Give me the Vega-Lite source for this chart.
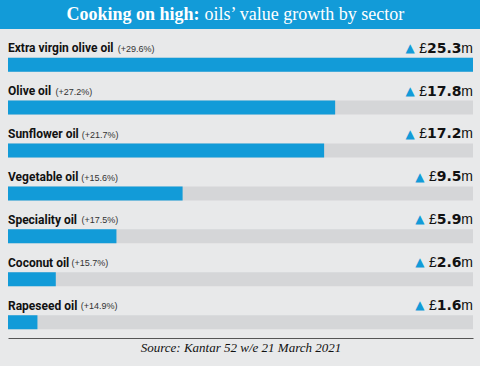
{
  "$schema": "https://vega.github.io/schema/vega-lite/v6.json",
  "background": "#e8e9ea",
  "padding": {"left": 0, "right": 0, "top": 0, "bottom": 12},
  "spacing": 0,
  "config": {"view": {"stroke": null}, "concat": {"spacing": 0}},
  "vconcat": [
    {
      "width": 480,
      "height": 29,
      "view": {"fill": "#129bd8", "stroke": null},
      "data": {"values": [{"bold": "Cooking on high:", "regular": "oils’ value growth by sector"}]},
      "encoding": {"x": {"datum": 0.42, "type": "quantitative", "scale": {"domain": [0, 1], "nice": false}, "axis": null}},
      "layer": [
        {"mark": {"type": "text", "align": "right", "baseline": "middle", "dx": -2, "font": "Liberation Serif", "fontWeight": "bold", "fontSize": 18, "color": "white"},
         "encoding": {"text": {"field": "bold"}}},
        {"mark": {"type": "text", "align": "left", "baseline": "middle", "dx": 3, "font": "Liberation Serif", "fontWeight": "normal", "fontSize": 18, "color": "white"},
         "encoding": {"text": {"field": "regular"}}}
      ]
    },
    {
      "width": 480,
      "height": 309,
      "data": {"values": [
        {"sector": "Extra virgin olive oil", "growth": 29.6, "value": 25.3},
        {"sector": "Olive oil", "growth": 27.2, "value": 17.8},
        {"sector": "Sunflower oil", "growth": 21.7, "value": 17.2},
        {"sector": "Vegetable oil", "growth": 15.6, "value": 9.5},
        {"sector": "Speciality oil", "growth": 17.5, "value": 5.9},
        {"sector": "Coconut oil", "growth": 15.7, "value": 2.6},
        {"sector": "Rapeseed oil", "growth": 14.9, "value": 1.6}
      ]},
      "transform": [{"calculate": "'(+' + format(datum.growth, '.1f') + '%)'", "as": "growthLabel"}],
      "encoding": {
        "y": {"field": "sector", "type": "nominal", "sort": null, "axis": null, "scale": {"paddingInner": 0, "paddingOuter": 0.1}}
      },
      "layer": [
        {
          "mark": {"type": "bar", "color": "#d5d6d8", "height": 14, "yOffset": 9.9},
          "encoding": {"x": {"datum": 25.3, "type": "quantitative",
            "scale": {"domain": [0, 25.3], "range": [8, 473], "nice": false, "zero": true},
            "axis": {"orient": "bottom", "domain": true, "domainColor": "#555555", "domainWidth": 1, "ticks": false, "labels": false, "grid": false,
              "title": "Source: Kantar 52 w/e 21 March 2021", "titleFont": "Liberation Serif", "titleFontStyle": "italic", "titleFontWeight": "normal", "titleFontSize": 13, "titleColor": "#111111", "titlePadding": 3}}}
        },
        {
          "mark": {"type": "bar", "color": "#129bd8", "height": 14, "yOffset": 9.9},
          "encoding": {"x": {"field": "value", "type": "quantitative"}}
        },
        {
          "mark": {"type": "text", "align": "left", "baseline": "alphabetic", "dy": -2.5, "font": "Roboto", "fontWeight": "bold", "fontSize": 12, "color": "#111111"},
          "encoding": {"x": {"datum": 0, "type": "quantitative"}, "text": {"field": "sector"}}
        },
        {
          "mark": {"type": "text", "align": "left", "baseline": "alphabetic", "dy": -3, "font": "Liberation Sans", "fontSize": 9, "color": "#333333",
            "dx": {"expr": "6.4*length(datum.sector) - 3.0*length(replace(datum.sector, regexp('[^iltfrj ]','g'), '')) + 3.5*length(replace(datum.sector, regexp('[^wm]','g'), '')) + 5"}},
          "encoding": {"x": {"datum": 0, "type": "quantitative"}, "text": {"field": "growthLabel"}}
        },
        {
          "mark": {"type": "text", "align": "right", "baseline": "alphabetic", "dy": -2.1, "font": "Liberation Sans", "fontSize": 14, "color": "#111111"},
          "encoding": {"x": {"datum": 25.3, "type": "quantitative"}, "text": {"value": "m"}}
        },
        {
          "mark": {"type": "text", "align": "right", "baseline": "alphabetic", "dy": -2.1, "dx": -11.5, "font": "DejaVu Sans", "fontWeight": "bold", "fontSize": 14, "color": "#111111"},
          "encoding": {"x": {"datum": 25.3, "type": "quantitative"}, "text": {"field": "value", "format": ".1f"}}
        },
        {
          "mark": {"type": "text", "align": "right", "baseline": "alphabetic", "dy": -2.1, "font": "Liberation Sans", "fontSize": 14, "color": "#111111",
            "dx": {"expr": "-(11.5 + (length(format(datum.value,'.1f'))-1)*9.74 + 5.3)"}},
          "encoding": {"x": {"datum": 25.3, "type": "quantitative"}, "text": {"value": "£"}}
        },
        {
          "mark": {"type": "text", "align": "right", "baseline": "alphabetic", "dy": -3, "font": "DejaVu Sans", "fontSize": 12, "color": "#129bd8",
            "dx": {"expr": "-(11.5 + (length(format(datum.value,'.1f'))-1)*9.74 + 5.3 + 7.8 + 4.5)"}},
          "encoding": {"x": {"datum": 25.3, "type": "quantitative"}, "text": {"value": "▲"}}
        }
      ]
    }
  ]
}
